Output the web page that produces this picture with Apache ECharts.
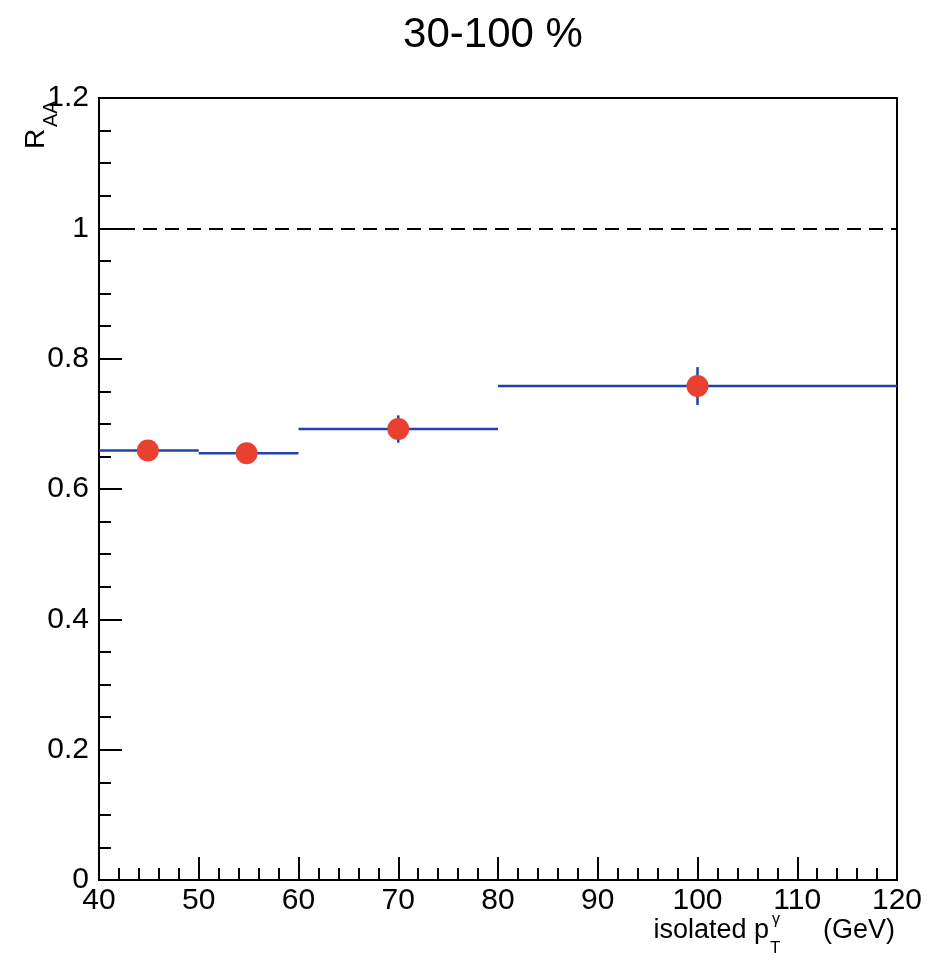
<!DOCTYPE html>
<html>
<head>
<meta charset="utf-8">
<script src="https://cdn.jsdelivr.net/npm/echarts@6/dist/echarts.min.js"></script>
<style>
html,body{margin:0;padding:0;background:#fff;}
#c{width:929px;height:961px;}
</style>
</head>
<body>
<div id="c"></div>
<script>
// Data
const titleText = '30-100 %';
const binLow = [40, 50, 60, 80];
const binHigh = [50, 60, 80, 120];
const binValue = [0.659, 0.655, 0.692, 0.758];
const pointX = [44.9, 54.8, 70, 100];
const pointY = [0.659, 0.655, 0.692, 0.758];
const pointErr = [0.012, 0.012, 0.021, 0.029];
const refValue = 1;
const xTicks = [40, 50, 60, 70, 80, 90, 100, 110, 120];
const yTicks = ['0', '0.2', '0.4', '0.6', '0.8', '1', '1.2'];

const FONT = '"Liberation Sans", Arial, Helvetica, sans-serif';
const BLUE = '#1f44a8';
const RED = '#e8412f';

const binData = binLow.map((l, i) => [l, binHigh[i], binValue[i]]);
const errData = pointX.map((x, i) => [x, pointY[i], pointErr[i]]);
const ptData = pointX.map((x, i) => [x, pointY[i]]);

const chart = echarts.init(document.getElementById('c'), null, {renderer: 'canvas'});
chart.setOption({
  animation: false,
  backgroundColor: '#fff',
  grid: {left: 99, right: 32, top: 98, bottom: 81, show: true, borderColor: '#000', borderWidth: 2, backgroundColor: 'transparent'},
  xAxis: {
    type: 'value', min: xTicks[0], max: xTicks[xTicks.length - 1], interval: 10,
    axisLine: {show: true, lineStyle: {color: '#000', width: 2}},
    axisTick: {show: true, inside: true, length: 23, lineStyle: {color: '#000', width: 2}},
    minorTick: {show: true, splitNumber: 5, length: 12, lineStyle: {color: '#000', width: 2}},
    splitLine: {show: false},
    axisLabel: {color: '#000', fontFamily: FONT, fontSize: 30, margin: 6,
      formatter: v => String(v)}
  },
  yAxis: {
    type: 'value', min: 0, max: 1.2, interval: 0.2,
    axisLine: {show: true, lineStyle: {color: '#000', width: 2}},
    axisTick: {show: true, inside: true, length: 23, lineStyle: {color: '#000', width: 2}},
    minorTick: {show: true, splitNumber: 4, length: 12, lineStyle: {color: '#000', width: 2}},
    splitLine: {show: false},
    axisLabel: {color: '#000', fontFamily: FONT, fontSize: 30, margin: 10, padding: [4, 0, 0, 0],
      formatter: v => yTicks[Math.round(v / 0.2)]}
  },
  series: [
    {
      type: 'custom', data: binData, z: 3, silent: true,
      renderItem: (params, api) => {
        const a = api.coord([api.value(0), api.value(2)]);
        const b = api.coord([api.value(1), api.value(2)]);
        return {type: 'line', shape: {x1: a[0], y1: a[1], x2: b[0], y2: b[1]},
          style: {stroke: BLUE, lineWidth: 2.5}};
      },
      markLine: {
        silent: true, symbol: 'none', label: {show: false},
        lineStyle: {color: '#000', type: [14, 8], width: 2},
        data: [{yAxis: refValue}]
      }
    },
    {
      type: 'custom', data: errData, z: 3, silent: true,
      renderItem: (params, api) => {
        const a = api.coord([api.value(0), api.value(1) - api.value(2)]);
        const b = api.coord([api.value(0), api.value(1) + api.value(2)]);
        return {type: 'line', shape: {x1: a[0], y1: a[1], x2: b[0], y2: b[1]},
          style: {stroke: BLUE, lineWidth: 2.5}};
      }
    },
    {
      type: 'scatter', data: ptData, z: 5, symbol: 'circle', symbolSize: 22,
      itemStyle: {color: RED, opacity: 1}
    }
  ],
  graphic: [
    {type: 'text', x: 493, y: 35, style: {text: titleText, font: '42px ' + FONT, fill: '#000', align: 'center', verticalAlign: 'middle'}},
    {type: 'text', x: 769, y: 931, style: {text: 'isolated p', font: '27px ' + FONT, fill: '#000', align: 'right', verticalAlign: 'middle'}},
    {type: 'text', x: 772, y: 920, style: {text: 'γ', font: '16px ' + FONT, fill: '#000', align: 'left', verticalAlign: 'middle'}},
    {type: 'text', x: 770, y: 948, style: {text: 'T', font: '17px ' + FONT, fill: '#000', align: 'left', verticalAlign: 'middle'}},
    {type: 'text', x: 895, y: 931, style: {text: '(GeV)', font: '27px ' + FONT, fill: '#000', align: 'right', verticalAlign: 'middle'}},
    {type: 'text', x: 36, y: 149, rotation: Math.PI / 2, style: {text: 'R', font: '28px ' + FONT, fill: '#000', align: 'left', verticalAlign: 'middle'}},
    {type: 'text', x: 51, y: 127, rotation: Math.PI / 2, style: {text: 'AA', font: '20px ' + FONT, fill: '#000', align: 'left', verticalAlign: 'middle'}}
  ]
});
</script>
</body>
</html>
